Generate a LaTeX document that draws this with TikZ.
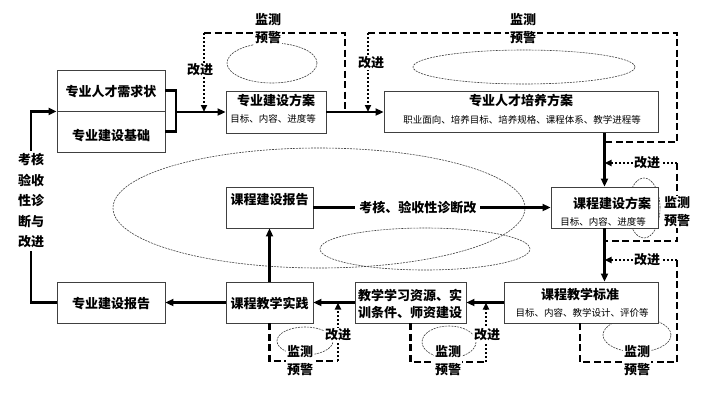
\documentclass[tikz,border=0pt]{standalone}
\usepackage{fontspec}
\newfontfamily\cjk{Noto Sans CJK SC}
\usetikzlibrary{arrows.meta,positioning,calc}

\begin{document}
\begin{tikzpicture}[x=1pt, y=-1pt,
    box/.style={draw=black!75, line width=0.9pt, fill=white, inner sep=0pt},
    lbl/.style={font=\cjk\bfseries\fontsize{13}{15}\selectfont, inner sep=1pt},
    sub/.style={font=\cjk\fontsize{9.5}{11}\selectfont, inner sep=0pt},
    warn/.style={font=\cjk\bfseries\fontsize{13}{18}\selectfont, fill=white, align=center, inner sep=1pt},
    conn/.style={line width=2.2pt},
    arr/.style={conn, -{Triangle[length=8pt,width=7pt]}},
    loopline/.style={line width=2.1pt, dash pattern=on 7pt off 3.5pt},
    dotarr/.style={line width=2pt, dash pattern=on 1.8pt off 2.2pt, -{Triangle[length=7pt,width=6pt]}},
    ring/.style={draw=black!75, line width=0.6pt, dash pattern=on 2pt off 1pt},
  ]
  \useasboundingbox (0,0) rectangle (713,394);

  % ellipses behind everything
  \draw[ring] (319,208) ellipse [x radius=206pt, y radius=60pt];
  \draw[ring] (425,249) ellipse [x radius=105pt, y radius=21pt];
  \draw[ring] (272,63) ellipse [x radius=45pt, y radius=20pt];
  \draw[ring] (524,67) ellipse [x radius=111pt, y radius=17pt];
  \draw[ring] (644,208) ellipse [x radius=16pt, y radius=30pt];
  \draw[ring] (637,335) ellipse [x radius=34pt, y radius=17pt];
  \draw[ring] (449,342) ellipse [x radius=27pt, y radius=16pt];
  \draw[ring] (305,341) ellipse [x radius=28pt, y radius=14pt];

  % boxes
  \node[box, minimum width=108pt, minimum height=41pt] (need) at (111,90.5) {};
  \node[box, minimum width=108pt, minimum height=41pt] (base) at (111,131.5) {};
  \node[box, minimum width=100pt, minimum height=42pt] (plan) at (276,112) {};
  \node[box, minimum width=274pt, minimum height=41pt] (train) at (521,112) {};
  \node[box, minimum width=107pt, minimum height=41pt] (cplan) at (604.5,207.5) {};
  \node[box, minimum width=154pt, minimum height=41pt] (std) at (581,302.5) {};
  \node[box, minimum width=111pt, minimum height=41pt] (res) at (410.5,302.5) {};
  \node[box, minimum width=87pt, minimum height=41pt] (prac) at (269.5,302.5) {};
  \node[box, minimum width=108pt, minimum height=41pt] (rep) at (111,302.5) {};
  \node[box, minimum width=87pt, minimum height=41pt] (crep) at (269.5,207.5) {};

  % box texts
  \node[lbl] at (111,92) {专业人才需求状};
  \node[lbl] at (111,136) {专业建设基础};
  \node[lbl] at (276,101) {专业建设方案};
  \node[sub] at (273,119) {目标、内容、进度等};
  \node[lbl] at (521,101) {专业人才培养方案};
  \node[sub] at (522,120) {职业面向、培养目标、培养规格、课程体系、教学进程等};
  \node[lbl] at (612,203) {课程建设方案};
  \node[sub] at (603,222) {目标、内容、进度等};
  \node[lbl] at (580,295) {课程教学标准};
  \node[sub] at (582,313) {目标、内容、教学设计、评价等};
  \node[lbl, anchor=west] at (357,295) {教学学习资源、实};
  \node[lbl, anchor=west] at (357,313) {训条件、师资建设};
  \node[lbl] at (269.5,303) {课程教学实践};
  \node[lbl] at (111,304) {专业建设报告};
  \node[lbl] at (269.5,200) {课程建设报告};

  % main flow
  \coordinate (brk) at (176,112);
  \draw[conn] (need.east) -| (brk) |- (base.east);
  \draw[arr] (brk) -- (plan.west);
  \draw[arr] (plan) -- (train);
  \draw[arr] (train.south -| cplan.north) -- (cplan.north);
  \draw[arr] (cplan.south) -- (cplan.south |- std.north);
  \draw[arr] (std) -- (res);
  \draw[arr] (res) -- (prac);
  \draw[arr] (prac) -- (rep);
  \draw[arr] (prac) -- (crep);
  \draw[arr] (crep) -- node[lbl, fill=white, pos=0.44, inner sep=4pt] {考核、验收性诊断改} (cplan);

  % left return loop
  \node[font=\cjk\bfseries\fontsize{13}{20.5}\selectfont, align=center, inner sep=3pt] (side) at (31,201)
    {考核\\验收\\性诊\\断与\\改进};
  \draw[conn] (rep.west) -| (side.south);
  \draw[arr] (side.north) |- (need.south west);

  % monitoring loops
  \coordinate (c1) at (204,33);
  \coordinate (c2) at (345,33);
  \draw[loopline] (c1) -- (c2) -- (c2 |- plan.east);
  \draw[dotarr] (c1) -- (c1 |- plan.west);
  \node[warn] at (200,70) {改进};
  \node[warn] at (268,29) {监测\\预警};

  \coordinate (d1) at (368,33);
  \coordinate (d2) at (677,33);
  \coordinate (d3) at (677,142);
  \draw[loopline] (d1) -- (d2) -- (d3) -- (d3 -| cplan.north);
  \draw[dotarr] (d1) -- (d1 |- train.west);
  \node[warn] at (371,63) {改进};
  \node[warn] at (523,29) {监测\\预警};

  \coordinate (e1) at (677,163);
  \coordinate (e2) at (677,241);
  \draw[loopline] (e1) -- (e2) -- (e2 -| cplan.south);
  \draw[dotarr] (e1) -- (e1 -| cplan.north);
  \node[warn] at (647,163) {改进};
  \node[warn] at (677,212) {监测\\预警};

  \coordinate (f1) at (677,260);
  \coordinate (f2) at (677,362);
  \coordinate (f3) at (580,362);
  \draw[loopline] (f1) -- (f2) -- (f3) -- (f3 |- std.south);
  \draw[dotarr] (f1) -- (f1 -| cplan.south);
  \node[warn] at (647,260) {改进};
  \node[warn] at (637,361) {监测\\预警};

  \coordinate (g1) at (486,362);
  \draw[loopline] (res.south) |- (g1);
  \draw[dotarr] (g1) -- (g1 |- std.west);
  \node[warn] at (487,335) {改进};
  \node[warn] at (448,361) {监测\\预警};

  \coordinate (h1) at (338,361);
  \draw[loopline] (prac.south) |- (h1);
  \draw[dotarr] (h1) -- (h1 |- res.west);
  \node[warn] at (338,335) {改进};
  \node[warn] at (300,361) {监测\\预警};
\end{tikzpicture}
\end{document}
